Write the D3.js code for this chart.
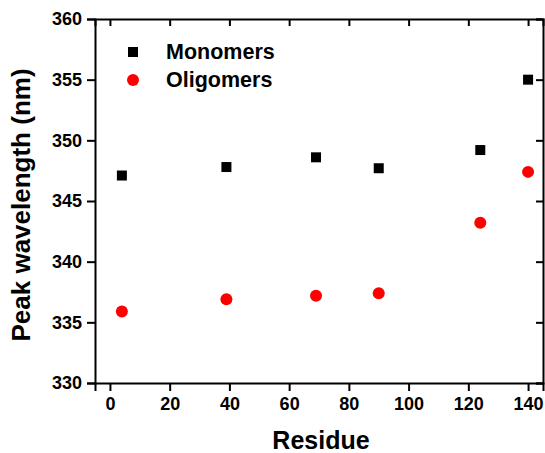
<!DOCTYPE html>
<html>
<head>
<meta charset="utf-8">
<script src="https://cdn.jsdelivr.net/npm/d3@7"></script>
<style>
  body { margin: 0; background: #fff; }
  svg text { font-family: "Liberation Sans", Arial, sans-serif; font-weight: bold; }
</style>
</head>
<body>
<svg id="canvas" width="545" height="453"></svg>
<script>
// residue positions and peak wavelengths
let residues = [4, 39, 69, 90, 124, 140]
let monomers = [347.1, 347.8, 348.6, 347.7, 349.2, 355.0]
let oligomers = [335.9, 336.9, 337.2, 337.4, 343.2, 347.4]

let xTicks = [0, 20, 40, 60, 80, 100, 120, 140]
let yTicks = [330, 335, 340, 345, 350, 355, 360]

let canvas = d3.select('#canvas')

let plotLeft = 95, plotRight = 543, plotTop = 19, plotBottom = 383

let x = d3.scaleLinear().domain([-5, 145]).range([plotLeft, plotRight])
let y = d3.scaleLinear().domain([330, 360]).range([plotBottom, plotTop])

let minorX = d3.range(0, 145, 10)
let minorY = d3.range(330, 360.1, 2.5)

// bottom axis, ticks out
let gx = canvas.append('g').attr('transform', 'translate(0,' + plotBottom + ')')
gx.call(d3.axisBottom(x).tickValues(minorX).tickSize(4).tickFormat(''))
gx.call(d3.axisBottom(x).tickValues(xTicks).tickSize(8).tickPadding(6).tickFormat(d3.format('d')))

// left axis, ticks out
let gy = canvas.append('g').attr('transform', 'translate(' + plotLeft + ',0)')
gy.call(d3.axisLeft(y).tickValues(minorY).tickSize(4).tickFormat(''))
gy.call(d3.axisLeft(y).tickValues(yTicks).tickSize(8).tickPadding(5).tickFormat(d3.format('d')))

// top axis, ticks in
let gt = canvas.append('g').attr('transform', 'translate(0,' + plotTop + ')')
gt.call(d3.axisTop(x).tickValues(minorX).tickSize(-4).tickFormat(''))
gt.call(d3.axisTop(x).tickValues(xTicks).tickSize(-7).tickFormat(''))

// right axis, ticks in
let gr = canvas.append('g').attr('transform', 'translate(' + plotRight + ',0)')
gr.call(d3.axisRight(y).tickValues(minorY).tickSize(-4).tickFormat(''))
gr.call(d3.axisRight(y).tickValues(yTicks).tickSize(-7).tickFormat(''))

canvas.selectAll('.domain').attr('stroke', '#000').attr('stroke-width', 2)
canvas.selectAll('.tick line').attr('stroke', '#000').attr('stroke-width', 2)
canvas.selectAll('.tick text').attr('fill', '#000').style('font-size', '18px')

// axis titles
canvas.append('text')
  .attr('x', 321).attr('y', 449)
  .attr('text-anchor', 'middle')
  .style('font-size', '25px')
  .text('Residue')

canvas.append('text')
  .attr('transform', 'translate(30,' + 205 + ') rotate(-90)')
  .attr('text-anchor', 'middle')
  .style('font-size', '26px')
  .text('Peak wavelength (nm)')

// data
canvas.append('g').selectAll('rect')
  .data(residues)
  .enter()
  .append('rect')
  .attr('x', (d) => x(d) - 5)
  .attr('y', (d, i) => y(monomers[i]) - 5)
  .attr('width', 10)
  .attr('height', 10)
  .attr('fill', '#000')

canvas.append('g').selectAll('circle')
  .data(residues)
  .enter()
  .append('circle')
  .attr('cx', (d) => x(d))
  .attr('cy', (d, i) => y(oligomers[i]))
  .attr('r', 6)
  .attr('fill', '#ff0000')

// legend
canvas.append('rect').attr('x', 128).attr('y', 47).attr('width', 10).attr('height', 10).attr('fill', '#000')
canvas.append('circle').attr('cx', 133).attr('cy', 80).attr('r', 6).attr('fill', '#ff0000')
canvas.append('text').attr('x', 166).attr('y', 59).style('font-size', '21.5px').text('Monomers')
canvas.append('text').attr('x', 166).attr('y', 87).style('font-size', '21.5px').text('Oligomers')
</script>
</body>
</html>
